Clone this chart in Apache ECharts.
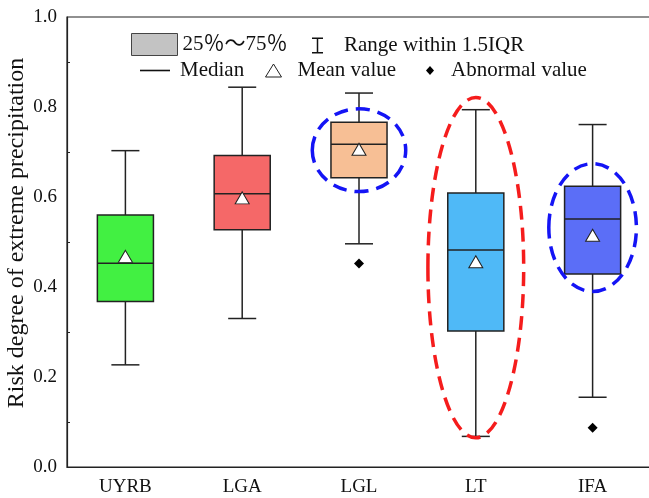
<!DOCTYPE html>
<html>
<head>
<meta charset="utf-8">
<script src="https://cdn.jsdelivr.net/npm/echarts@6/dist/echarts.min.js"></script>
<style>
html, body { margin: 0; padding: 0; background: #fff; }
#chart { width: 649px; height: 498px; }
</style>
</head>
<body>
<div id="chart"></div>
<script>
// box statistics
var categories = ['UYRB', 'LGA', 'LGL', 'LT', 'IFA'];
var boxColors = ['#42f042', '#f56868', '#f7bf95', '#4fb9f7', '#5b6ef7'];
var lowWhisker = [0.227, 0.330, 0.496, 0.068, 0.155];
var q1 = [0.368, 0.527, 0.643, 0.302, 0.429];
var median = [0.453, 0.607, 0.717, 0.482, 0.551];
var q3 = [0.560, 0.692, 0.766, 0.609, 0.624];
var highWhisker = [0.703, 0.844, 0.831, 0.794, 0.761];
var meanValue = [0.468, 0.598, 0.706, 0.456, 0.515];
var outlierCat = ['LGL', 'IFA'];
var outlierValue = [0.452, 0.087];

// dashed rings drawn over some boxes
var ringCat = ['LGL', 'LT', 'IFA'];
var ringCenter = [0.704, 0.443, 0.532];
var ringHalfWidth = [0.40, 0.41, 0.375];   // in category bands
var ringHalfHeight = [0.092, 0.378, 0.142]; // in axis units
var ringColor = ['#1414f5', '#f51c1c', '#1414f5'];

var font = "'Liberation Serif', 'Times New Roman', serif";
var cjkFont = "'Liberation Serif', 'Noto Sans CJK SC', serif";
var ink = '#222';

var chart = echarts.init(document.getElementById('chart'));

function catIndex(name) { return categories.indexOf(name); }

var whiskerData = categories.map(function (c, i) { return [i, lowWhisker[i], highWhisker[i]]; });
var boxData = categories.map(function (c, i) {
    return { value: [i, q1[i], q3[i]], itemStyle: { color: boxColors[i] } };
});
var medianData = categories.map(function (c, i) { return [i, median[i]]; });
var meanData = categories.map(function (c, i) { return [i, meanValue[i]]; });
var outlierData = outlierCat.map(function (c, i) { return [catIndex(c), outlierValue[i]]; });
var ringData = ringCat.map(function (c, i) {
    return {
        value: [catIndex(c), ringCenter[i], ringHalfWidth[i], ringHalfHeight[i]],
        itemStyle: { color: ringColor[i] }
    };
});

var lineStyle = { stroke: ink, lineWidth: 1.5 };
var legendText = { fontFamily: font, fontSize: 21, color: '#111' };

var option = {
    animation: false,
    backgroundColor: '#fff',
    grid: {
        left: 67, right: -2, top: 17, bottom: 31,
        outerBoundsMode: 'none',
        show: true, borderColor: ink, borderWidth: 1.2, backgroundColor: 'transparent'
    },
    legend: [
        {
            left: 131, top: 33, padding: 0, itemWidth: 46, itemHeight: 22,
            textStyle: { fontFamily: cjkFont, fontSize: 21, color: '#111' },
            selectedMode: false,
            data: [{ name: '25％～75％', icon: 'rect', itemStyle: { color: '#c3c3c3', borderColor: '#444', borderWidth: 1 } }]
        },
        {
            left: 312, top: 35, padding: 0, itemWidth: 43, itemHeight: 16,
            textStyle: legendText,
            selectedMode: false,
            data: [{ name: 'Range within 1.5IQR', icon: 'path://M0,0H11V1.5H6.25V14.5H11V16H0V14.5H4.75V1.5H0Z', itemStyle: { color: '#111' } }]
        },
        {
            left: 140, top: 60, padding: 0, itemWidth: 40, itemHeight: 1.6,
            textStyle: legendText,
            selectedMode: false,
            data: [{ name: 'Median', icon: 'path://M0,0H30V1.6H0Z', itemStyle: { color: '#111' } }]
        },
        {
            left: 265, top: 60, padding: 0, itemWidth: 38, itemHeight: 13,
            textStyle: legendText,
            selectedMode: false,
            data: [{ name: 'Mean value', icon: 'path://M8,0L16,13H0Z', itemStyle: { color: '#fff', borderColor: ink, borderWidth: 1 } }]
        },
        {
            left: 426, top: 60, padding: 0, itemWidth: 32, itemHeight: 9,
            textStyle: legendText,
            selectedMode: false,
            data: [{ name: 'Abnormal value', icon: 'path://M4,0L8,4.5L4,9L0,4.5Z', itemStyle: { color: '#000' } }]
        }
    ],
    xAxis: {
        type: 'category',
        data: categories,
        boundaryGap: true,
        axisLine: { lineStyle: { color: ink, width: 1.2 } },
        axisTick: { inside: true, alignWithLabel: true, length: 7, lineStyle: { color: ink } },
        axisLabel: { fontFamily: font, fontSize: 19, color: '#111', margin: 11 },
        splitLine: { show: false }
    },
    yAxis: {
        type: 'value',
        min: 0, max: 1, interval: 0.2,
        name: 'Risk degree of extreme precipitation',
        nameLocation: 'middle',
        nameGap: 38,
        nameMoveOverlap: false,
        nameTextStyle: { fontFamily: font, fontSize: 24, color: '#111', padding: [0, 0, 0, 18] },
        axisLine: { show: true, lineStyle: { color: ink, width: 1.2 } },
        axisTick: { inside: true, length: 6, lineStyle: { color: ink } },
        minorTick: { show: true, splitNumber: 2, length: 3, lineStyle: { color: ink } },
        axisLabel: {
            fontFamily: font, fontSize: 19, color: '#111', margin: 10,
            formatter: function (v) { return v.toFixed(1); }
        },
        splitLine: { show: false }
    },
    series: [
        {
            name: 'Range within 1.5IQR',
            type: 'custom',
            z: 2,
            data: whiskerData,
            renderItem: function (params, api) {
                var x = api.value(0);
                var lo = api.coord([x, api.value(1)]);
                var hi = api.coord([x, api.value(2)]);
                var cap = api.size([1, 0])[0] * 0.12;
                return {
                    type: 'group',
                    children: [
                        { type: 'line', shape: { x1: lo[0], y1: lo[1], x2: hi[0], y2: hi[1] }, style: lineStyle },
                        { type: 'line', shape: { x1: lo[0] - cap, y1: lo[1], x2: lo[0] + cap, y2: lo[1] }, style: lineStyle },
                        { type: 'line', shape: { x1: hi[0] - cap, y1: hi[1], x2: hi[0] + cap, y2: hi[1] }, style: lineStyle }
                    ]
                };
            }
        },
        {
            name: '25％～75％',
            type: 'custom',
            z: 3,
            data: boxData,
            renderItem: function (params, api) {
                var x = api.value(0);
                var bottom = api.coord([x, api.value(1)]);
                var top = api.coord([x, api.value(2)]);
                var half = api.size([1, 0])[0] * 0.24;
                return {
                    type: 'rect',
                    shape: { x: top[0] - half, y: top[1], width: half * 2, height: bottom[1] - top[1] },
                    style: { fill: api.visual('color'), stroke: ink, lineWidth: 1.5 }
                };
            }
        },
        {
            name: 'Median',
            type: 'custom',
            z: 4,
            data: medianData,
            renderItem: function (params, api) {
                var p = api.coord([api.value(0), api.value(1)]);
                var half = api.size([1, 0])[0] * 0.24;
                return {
                    type: 'line',
                    shape: { x1: p[0] - half, y1: p[1], x2: p[0] + half, y2: p[1] },
                    style: lineStyle
                };
            }
        },
        {
            name: 'Mean value',
            type: 'scatter',
            z: 5,
            symbol: 'triangle',
            symbolSize: [14, 12],
            itemStyle: { color: '#fff', borderColor: ink, borderWidth: 1, opacity: 1 },
            data: meanData
        },
        {
            name: 'Abnormal value',
            type: 'scatter',
            z: 5,
            symbol: 'diamond',
            symbolSize: [10, 10],
            itemStyle: { color: '#000', opacity: 1 },
            data: outlierData
        },
        {
            name: 'rings',
            type: 'custom',
            z: 6,
            data: ringData,
            renderItem: function (params, api) {
                var c = api.coord([api.value(0), api.value(1)]);
                var rx = api.size([1, 0])[0] * api.value(2);
                var ry = api.size([0, api.value(3)])[1];
                return {
                    type: 'ellipse',
                    shape: { cx: c[0], cy: c[1], rx: rx, ry: ry },
                    style: { fill: 'none', stroke: api.visual('color'), lineWidth: 3.5, lineDash: [14, 8] }
                };
            }
        }
    ]
};

chart.setOption(option);
</script>
</body>
</html>
